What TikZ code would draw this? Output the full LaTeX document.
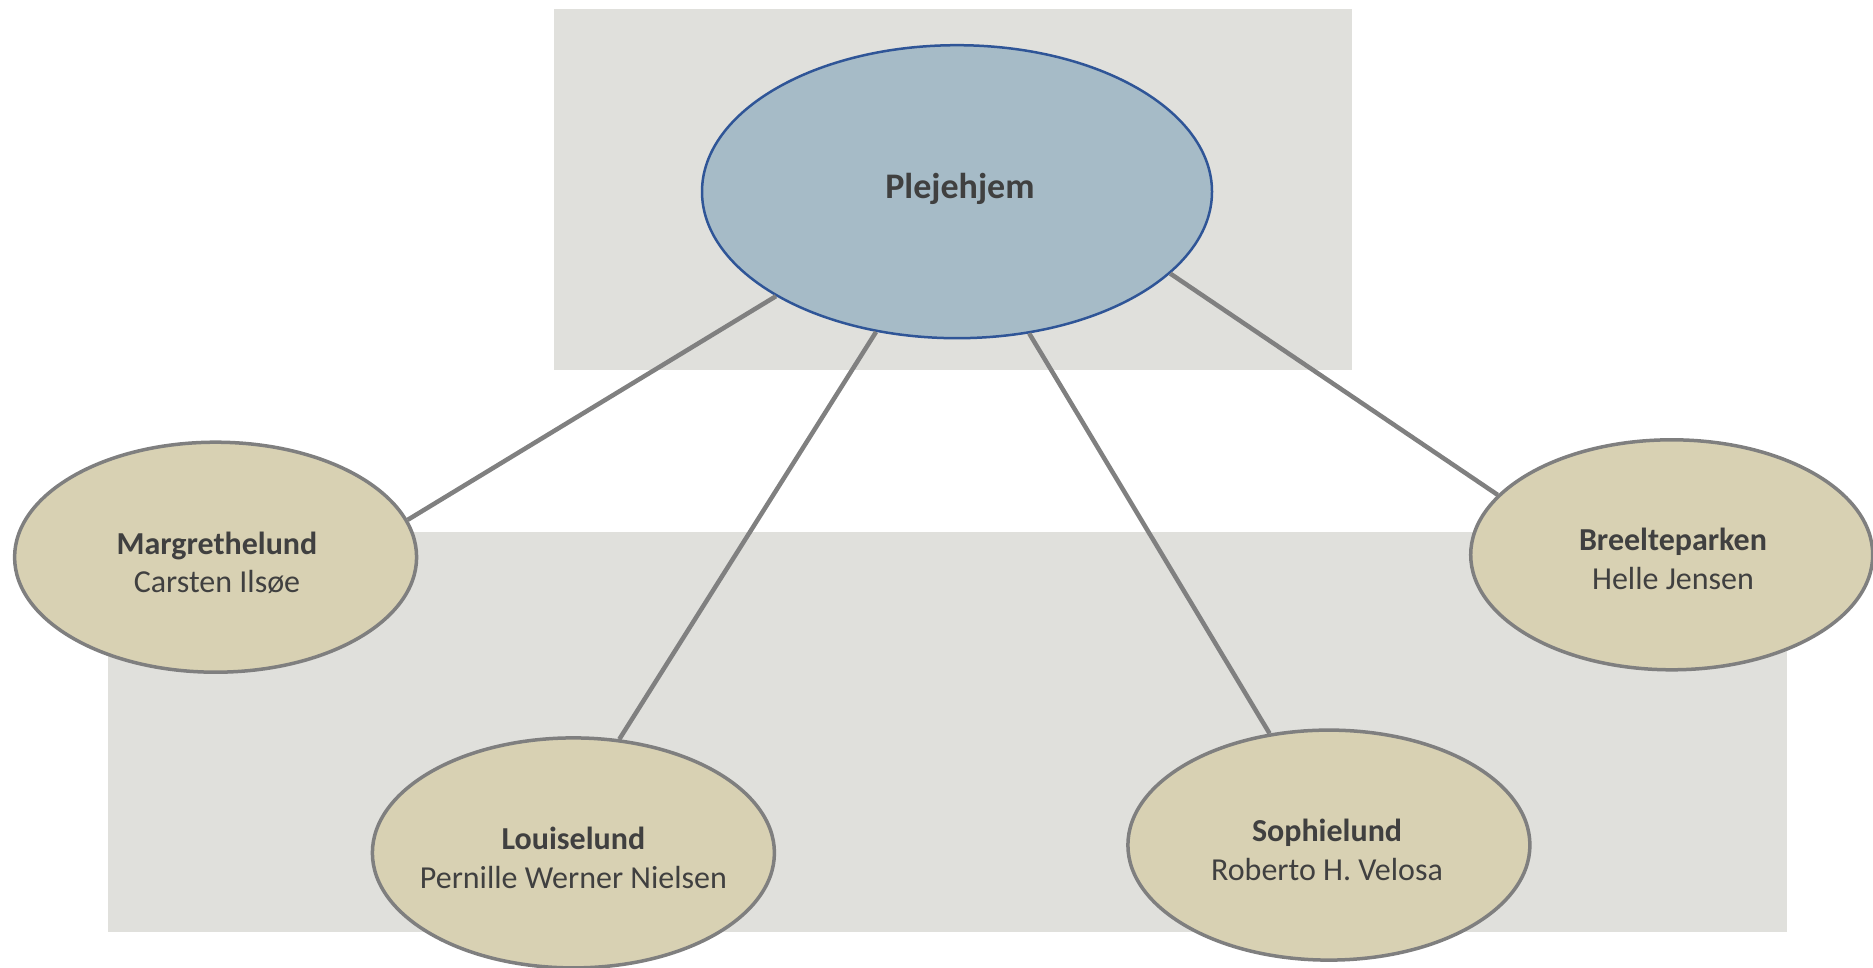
\documentclass[tikz,border=0pt]{standalone}
\usepackage{fontspec}
\setmainfont{Carlito}
\usetikzlibrary{shapes.geometric}
\definecolor{bgrey}{HTML}{E0E0DC}
\definecolor{rootfill}{HTML}{A6BBC7}
\definecolor{rootline}{HTML}{2F5597}
\definecolor{kidfill}{HTML}{D8D1B3}
\definecolor{kidline}{HTML}{7F7F7F}
\definecolor{txt}{HTML}{404040}
\definecolor{conn}{HTML}{808080}
\tikzset{
  rootnode/.style={ellipse, draw=rootline, line width=2.5pt, fill=rootfill,
    minimum width=510pt, minimum height=293pt, inner sep=0pt},
  roottext/.style={text=txt, inner sep=0pt, font=\fontsize{36}{43}\selectfont\bfseries},
  kidnode/.style={ellipse, draw=kidline, line width=3.5pt, fill=kidfill,
    minimum width=402pt, minimum height=230pt, inner sep=0pt},
  kidtext/.style={text=txt, inner sep=0pt, align=center,
    font=\fontsize{32}{38.5}\selectfont},
  connector/.style={draw=conn, line width=4.5pt},
  panel/.style={fill=bgrey, draw=none}
}
\begin{document}
\begin{tikzpicture}[x=1pt,y=-1pt]
\useasboundingbox (0,0) rectangle (1873,968);
\fill[panel] (554,9.5) rectangle (1352,370);
\fill[panel] (107.5,531.5) rectangle (1787,931.7);
\node[rootnode] (root) at (957,191.7) {};
\node[roottext] (roott) at (960,189) {Plejehjem};
\node[kidnode] (marg) at (215.6,557.2) {};
\node[kidtext] (margt) at (217,563) {\textbf{Margrethelund}\\Carsten Ilsøe};
\node[kidnode] (loui) at (573.4,852.9) {};
\node[kidtext] (louit) at (573.4,858) {\textbf{Louiselund}\\Pernille Werner Nielsen};
\node[kidnode] (soph) at (1328.9,845.1) {};
\node[kidtext] (topht) at (1327,850) {\textbf{Sophielund}\\Roberto H. Velosa};
\node[kidnode] (bree) at (1671.7,554.8) {};
\node[kidtext] (breet) at (1673,559) {\textbf{Breelteparken}\\Helle Jensen};
\draw[connector] (root.210.2) -- (marg.11.2);
\draw[connector] (root.240.6) -- (loui.68.5);
\draw[connector] (root.297.9) -- (soph.118.4);
\draw[connector] (root.-21) -- (bree.161.5);
\end{tikzpicture}
\end{document}
